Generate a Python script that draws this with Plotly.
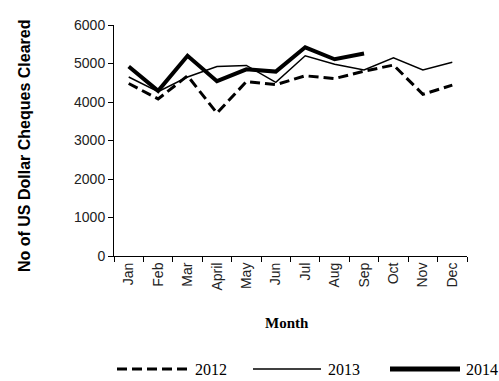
import plotly.graph_objects as go

months = ["Jan", "Feb", "Mar", "April", "May", "Jun", "Jul", "Aug", "Sep", "Oct", "Nov", "Dec"]
y2012 = [4480, 4080, 4680, 3710, 4530, 4450, 4680, 4610, 4800, 4960, 4200, 4440]
y2013 = [4650, 4270, 4650, 4920, 4950, 4510, 5200, 4980, 4830, 5150, 4830, 5030]
y2014 = [4920, 4290, 5200, 4540, 4850, 4790, 5420, 5110, 5260]
years = ["2012", "2013", "2014"]
yticks = [0, 1000, 2000, 3000, 4000, 5000, 6000]

L, R, T, B = 114, 467, 25, 256
W, H = 499, 381

fig = go.Figure()
fig.add_trace(go.Scatter(x=months, y=y2012, mode="lines", name=years[0],
                         line=dict(color="black", width=3, dash="10px,5px")))
fig.add_trace(go.Scatter(x=months, y=y2013, mode="lines", name=years[1],
                         line=dict(color="black", width=1.5)))
fig.add_trace(go.Scatter(x=months[:len(y2014)], y=y2014, mode="lines", name=years[2],
                         line=dict(color="black", width=4)))

def px(x):
    return (x - L) / (R - L)

def py(y):
    return (B - y) / (B - T)

tick_font = dict(family="Liberation Sans, Arial", size=14, color="#222")
fig.update_layout(
    width=W, height=H,
    margin=dict(l=L, r=W - R, t=T, b=H - B),
    plot_bgcolor="white", paper_bgcolor="white",
    showlegend=False,
    xaxis=dict(type="category", categoryorder="array", categoryarray=months,
               range=[-0.5, 11.5], showline=True, linecolor="black", linewidth=1,
               ticks="outside", ticklen=5, tickcolor="black", tickson="boundaries",
               tickangle=-90, tickfont=tick_font, showgrid=False, zeroline=False),
    yaxis=dict(range=[0, 6000], tickvals=yticks, showline=True, linecolor="black",
               linewidth=1, ticks="outside", ticklen=5, tickcolor="black",
               tickfont=tick_font, showgrid=False, zeroline=False),
)

annotations = [
    dict(text="<b>No of US Dollar Cheques Cleared</b>", x=px(24), y=py(146),
         xref="paper", yref="paper", showarrow=False, textangle=-90,
         font=dict(family="Liberation Sans, Arial", size=16, color="black"),
         xanchor="center", yanchor="middle"),
    dict(text="<b>Month</b>", x=px(287), y=py(323), xref="paper", yref="paper",
         showarrow=False, font=dict(family="Liberation Serif, Times New Roman", size=15, color="black"),
         xanchor="center", yanchor="middle"),
]
shapes = []
leg_y = 369
legend_items = [(117, 187, 193, 3, "10px,5px"), (253, 321, 326, 1.5, "solid"), (390, 460, 464, 5, "solid")]
for yr, (x0, x1, xt, w, d) in zip(years, legend_items):
    shapes.append(dict(type="line", xref="paper", yref="paper", x0=px(x0), x1=px(x1),
                       y0=py(leg_y), y1=py(leg_y), line=dict(color="black", width=w, dash=d)))
    annotations.append(dict(text=yr, x=px(xt), y=py(leg_y), xref="paper", yref="paper",
                            showarrow=False, xanchor="left", yanchor="middle",
                            font=dict(family="Liberation Serif, Times New Roman", size=16, color="black")))
fig.update_layout(annotations=annotations, shapes=shapes)

fig.write_html("out.html", config={"displayModeBar": False},
               post_script="document.body.style.margin='0';document.body.style.overflow='hidden';")
